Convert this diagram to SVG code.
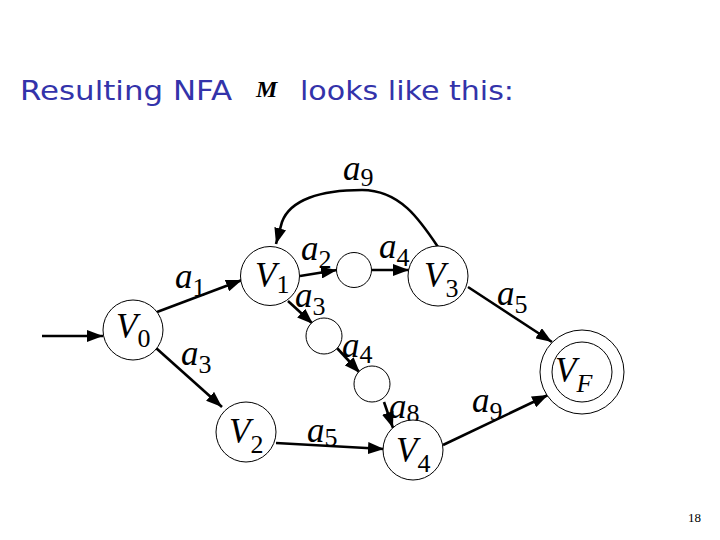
<svg xmlns="http://www.w3.org/2000/svg" width="720" height="540" viewBox="0 0 720 540">
<defs>
<marker id="ah" markerUnits="userSpaceOnUse" markerWidth="17" markerHeight="12" refX="16" refY="6" orient="auto">
<path d="M0,0 L16,6 L0,12 z" fill="#000"/>
</marker>
<style>
.st{fill:#fff;stroke:#000;stroke-width:1}
.e{fill:none;stroke:#000;stroke-width:2.6;marker-end:url(#ah)}
.lb{font-family:"Liberation Serif",serif;font-style:italic;font-size:35px;fill:#000}
.sb{font-style:normal;font-size:26px}
.sf{font-size:26px}
.title{font-family:"DejaVu Sans",sans-serif;font-size:27px;fill:#3333aa}
</style>
</defs>
<rect width="720" height="540" fill="#fff"/>
<g id="title">
<text class="title" x="20" y="100" textLength="212" lengthAdjust="spacingAndGlyphs">Resulting NFA</text>
<text x="256" y="97" font-family="Liberation Serif,serif" font-style="italic" font-weight="bold" font-size="24">M</text>
<text class="title" x="300" y="100" textLength="214" lengthAdjust="spacingAndGlyphs">looks like this:</text>
</g>
<g id="connectors">
<line class="e" x1="42" y1="336" x2="103" y2="336"/>
<line class="e" x1="157" y1="312" x2="242" y2="280"/>
<line class="e" x1="156" y1="348" x2="222" y2="407"/>
<line class="e" x1="300" y1="276" x2="337" y2="270"/>
<line class="e" x1="288" y1="301" x2="313" y2="324"/>
<line class="e" x1="372" y1="270" x2="409" y2="270"/>
<line class="e" x1="468" y1="287" x2="552" y2="342"/>
<path class="e" d="M438,247 C420,220 400,190 362,190 C320,190 290,200 282,222 L276,244"/>
<line class="e" x1="337" y1="348" x2="360" y2="373"/>
<line class="e" x1="384" y1="402" x2="393" y2="428"/>
<line class="e" x1="276" y1="443" x2="384" y2="449"/>
<line class="e" x1="443" y1="445" x2="548" y2="395"/>
</g>
<g id="edge-labels">
<text class="lb" x="343" y="180">a<tspan class="sb" dy="6">9</tspan></text>
<text class="lb" x="175" y="288">a<tspan class="sb" dy="8">1</tspan></text>
<text class="lb" x="301" y="260">a<tspan class="sb" dy="8">2</tspan></text>
<text class="lb" x="379" y="258">a<tspan class="sb" dy="8">4</tspan></text>
<text class="lb" x="295" y="307">a<tspan class="sb" dy="8">3</tspan></text>
<text class="lb" x="497" y="305">a<tspan class="sb" dy="8">5</tspan></text>
<text class="lb" x="181" y="365">a<tspan class="sb" dy="8">3</tspan></text>
<text class="lb" x="342" y="357">a<tspan class="sb" dy="6">4</tspan></text>
<text class="lb" x="389" y="418">a<tspan class="sb" dy="4">8</tspan></text>
<text class="lb" x="472" y="412">a<tspan class="sb" dy="8">9</tspan></text>
<text class="lb" x="307" y="442">a<tspan class="sb" dy="4">5</tspan></text>
</g>
<g id="V0"><circle class="st" cx="133" cy="330" r="30"/><text class="lb" x="116" y="338">V<tspan class="sb" dy="9">0</tspan></text></g>
<g id="V1"><circle class="st" cx="270" cy="276" r="29.5"/><text class="lb" x="255" y="287">V<tspan class="sb" dy="6">1</tspan></text></g>
<g id="S1"><circle class="st" cx="354" cy="270" r="17.5"/></g>
<g id="V3"><circle class="st" cx="438" cy="276" r="30"/><text class="lb" x="424" y="287">V<tspan class="sb" dy="10">3</tspan></text></g>
<g id="S2"><circle class="st" cx="324" cy="336" r="18"/></g>
<g id="S3"><circle class="st" cx="372" cy="384" r="18"/></g>
<g id="V2"><circle class="st" cx="246" cy="432" r="30"/><text class="lb" x="229" y="443">V<tspan class="sb" dy="10">2</tspan></text></g>
<g id="V4"><circle class="st" cx="413" cy="450" r="30"/><text class="lb" x="396" y="462">V<tspan class="sb" dy="10">4</tspan></text></g>
<g id="VF"><circle class="st" cx="582" cy="372" r="42"/><circle class="st" cx="582" cy="372" r="30"/><text class="lb" x="555" y="382">V<tspan class="sf" dy="10">F</tspan></text></g>
<g id="page"><text x="688" y="522" font-family="Liberation Serif,serif" font-size="13" fill="#000">18</text></g>
</svg>
